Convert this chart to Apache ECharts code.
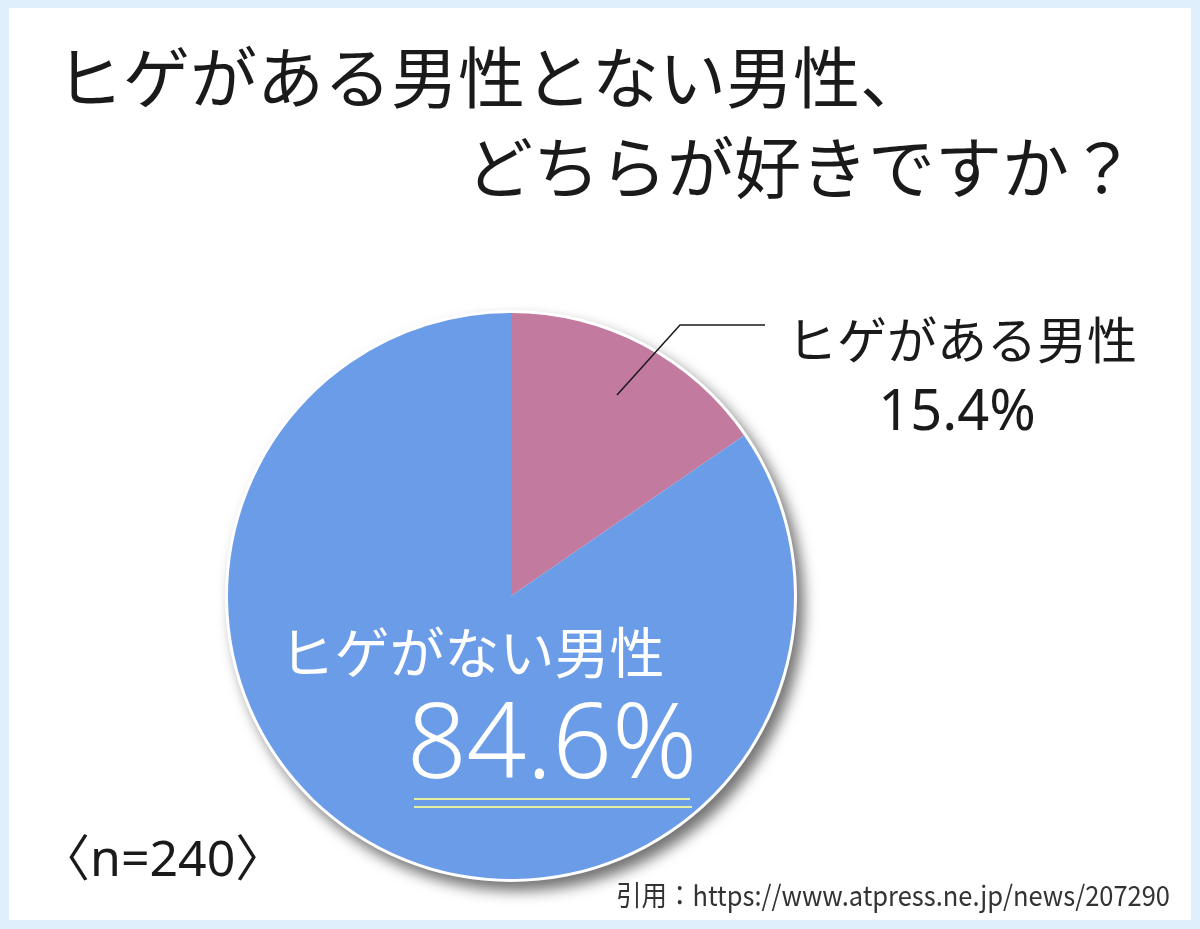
<!DOCTYPE html>
<html><head><meta charset="utf-8">
<script src="https://cdn.jsdelivr.net/npm/echarts@6/dist/echarts.min.js"></script>
<style>
html,body{margin:0;padding:0;background:#dff0fc;}
#c{position:absolute;left:9px;top:8px;width:1182px;height:912px;background:#ffffff;}
</style></head>
<body><div id="c"></div>
<script>
// Data
const titleLines = ['ヒゲがある男性とない男性、', 'どちらが好きですか？'];
const categories = ['ヒゲがある男性', 'ヒゲがない男性'];
const values = [15.4, 84.6];
const sampleNote = '〈n=240〉';
const sourceNote = '引用：https://www.atpress.ne.jp/news/207290';
const colors = ['#c27a9e', '#6b9ce8'];

const chart = echarts.init(document.getElementById('c'));
const font = '"Noto Sans CJK JP", "Noto Sans", sans-serif';
const ox = 9, oy = 8; // container offset
const cx = 511 - ox, cy = 596 - oy, R = 283;

const option = {
  animation: false,
  backgroundColor: '#ffffff',
  graphic: [
    {type:'text', x: 56-ox, y: 78-oy, z:100, style:{text:titleLines[0], font:'400 67px '+font, fill:'#1a1a1a', align:'left', verticalAlign:'middle'}},
    {type:'text', x: 1136-ox, y: 168-oy, z:100, style:{text:titleLines[1], font:'400 67px '+font, fill:'#1a1a1a', align:'right', verticalAlign:'middle'}},
    // label for slice 1 (outside)
    {type:'polyline', z:100, shape:{points:[[617-ox,395-oy],[680-ox,325-oy],[765-ox,325-oy]]}, style:{stroke:'#1a1a1a', lineWidth:1.5, fill:null}},
    {type:'text', z:100, x: 962-ox, y: 340-oy, style:{text:categories[0], font:'400 50px '+font, fill:'#1a1a1a', align:'center', verticalAlign:'middle'}},
    {type:'text', z:100, x: 957-ox, y: 414-oy, style:{text:values[0].toFixed(1)+'%', font:'400 56px "Noto Sans", '+font, fill:'#1a1a1a', align:'center', verticalAlign:'middle'}},
    // label for slice 2 (inside)
    {type:'text', z:100, x: 472-ox, y: 652-oy, style:{text:categories[1], font:'400 55px '+font, fill:'#ffffff', align:'center', verticalAlign:'middle'}},
    {type:'text', z:100, x: 552-ox, y: 748-oy, style:{text:values[1].toFixed(1)+'%', font:'300 105px "Noto Sans", '+font, fill:'#ffffff', align:'center', verticalAlign:'middle'}},
    {type:'line', z:100, shape:{x1:414-ox,y1:799-oy,x2:690-ox,y2:799-oy}, style:{stroke:'#e4efa2', lineWidth:2}},
    {type:'line', z:100, shape:{x1:414-ox,y1:807-oy,x2:692-ox,y2:807-oy}, style:{stroke:'#e4efa2', lineWidth:2}},
    {type:'text', z:100, x: 40-ox, y: 862-oy, style:{text:sampleNote, font:'400 50px "Noto Sans", '+font, fill:'#1a1a1a', align:'left', verticalAlign:'middle'}},
    {type:'text', z:100, x: 1170-ox, y: 895-oy, scaleX:0.91, style:{text:sourceNote, font:'400 28px '+font, fill:'#333333', align:'right', verticalAlign:'middle'}}
  ],
  series: [
    {
      type:'pie', center:[cx, cy], radius: R+3, silent:true,
      label:{show:false}, labelLine:{show:false},
      itemStyle:{color:'#ffffff', shadowBlur:14, shadowOffsetX:7, shadowOffsetY:9, shadowColor:'rgba(0,0,0,0.55)'},
      data:[{value:1}], z:1
    },
    {
      type:'pie', center:[cx, cy], radius: R, startAngle:90, clockwise:true, silent:true,
      label:{show:false}, labelLine:{show:false},
      data: categories.map((n,i)=>({name:n, value:values[i], itemStyle:{color:colors[i]}})), z:2
    }
  ]
};
chart.setOption(option);
</script></body></html>
